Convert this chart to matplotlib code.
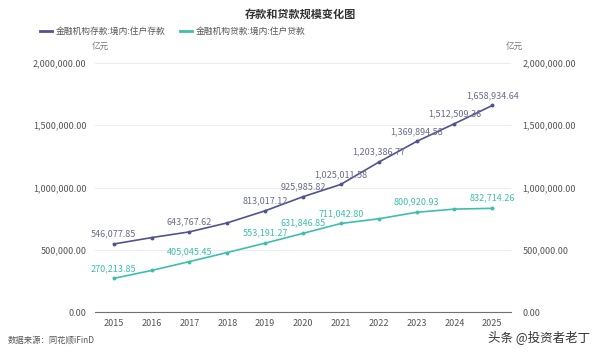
import matplotlib
matplotlib.use("Agg")
import matplotlib.pyplot as plt
from matplotlib.ticker import FuncFormatter
from matplotlib.lines import Line2D

plt.rcParams['font.family'] = ['Noto Sans CJK SC', 'DejaVu Sans']

years = ['2015', '2016', '2017', '2018', '2019', '2020', '2021', '2022', '2023', '2024', '2025']
deposits = [546077.85, 597751.0, 643767.62, 716038.0, 813017.12, 925985.82, 1025011.58,
            1203386.77, 1369894.58, 1512509.36, 1658934.64]
loans = [270213.85, 333713.0, 405045.45, 478000.0, 553191.27, 631846.85, 711042.80,
         748800.0, 800920.93, 826700.0, 832714.26]
dep_labeled = [True, False, True, False, True, True, True, True, True, True, True]
loan_labeled = [True, False, True, False, True, True, True, False, True, False, True]
name_dep = '金融机构存款:境内:住户存款'
name_loan = '金融机构贷款:境内:住户贷款'

c_dep = '#515390'
c_loan = '#3dbfad'
grey = '#555555'

fig = plt.figure(figsize=(6.0, 3.54), dpi=100)
ax = fig.add_axes([0.158, 0.1186, 0.694, 0.7034])
x = list(range(len(years)))
ax.plot(x, deposits, color=c_dep, lw=1.2, marker='o', ms=1.8)
ax.plot(x, loans, color=c_loan, lw=1.2, marker='o', ms=1.8)
ax.set_xlim(-0.5, len(years) - 0.5)
ax.set_ylim(0, 2000000)
ax.set_yticks([0, 500000, 1000000, 1500000, 2000000])
fmt = FuncFormatter(lambda v, p: f'{v:,.2f}')
ax.yaxis.set_major_formatter(fmt)
ax.set_xticks(x)
ax.set_xticklabels(years)
ax.grid(axis='y', color='#ececec', lw=0.7)
ax.set_axisbelow(True)
for s in ['top', 'right', 'left']:
    ax.spines[s].set_visible(False)
ax.spines['bottom'].set_color('#6e7079')
ax.tick_params(axis='both', length=0, labelsize=6.5, colors=grey)
ax.tick_params(axis='y', pad=6)
ax.tick_params(axis='x', pad=5)

ax2 = ax.twinx()
ax2.set_ylim(0, 2000000)
ax2.set_yticks([0, 500000, 1000000, 1500000, 2000000])
ax2.yaxis.set_major_formatter(fmt)
for s in ['top', 'right', 'left', 'bottom']:
    ax2.spines[s].set_visible(False)
ax2.tick_params(axis='y', length=0, labelsize=6.5, colors=grey, pad=8)

for i, (v, lab) in enumerate(zip(deposits, dep_labeled)):
    if lab:
        ax.annotate(f'{v:,.2f}', (i, v), xytext=(0, 4), textcoords='offset points',
                    ha='center', va='bottom', fontsize=6.5, color='#6a6c8e')
for i, (v, lab) in enumerate(zip(loans, loan_labeled)):
    if lab:
        ax.annotate(f'{v:,.2f}', (i, v), xytext=(0, 4), textcoords='offset points',
                    ha='center', va='bottom', fontsize=6.5, color=c_loan)

fig.text(0.5, 0.96, '存款和贷款规模变化图', ha='center', va='center', fontsize=8, fontweight='bold', color='#333333')
h = [Line2D([0], [0], color=c_dep, lw=2), Line2D([0], [0], color=c_loan, lw=2)]
fig.legend(h, [name_dep, name_loan], loc='center left', bbox_to_anchor=(0.067, 0.912), ncol=2,
           frameon=False, fontsize=6.3, handlelength=1.4, handletextpad=0.4, columnspacing=1.6,
           labelcolor='#555555', borderaxespad=0, borderpad=0)
fig.text(0.167, 0.868, '亿元', ha='center', va='center', fontsize=6.2, color='#777777')
fig.text(0.858, 0.868, '亿元', ha='center', va='center', fontsize=6.2, color='#777777')
fig.text(0.013, 0.04, '数据来源：同花顺iFinD', ha='left', va='center', fontsize=6, color='#555555')
fig.text(0.983, 0.048, '头条 @投资者老丁', ha='right', va='center', fontsize=9, color='#333333')

fig.savefig('out.png', dpi=100, facecolor='white')
